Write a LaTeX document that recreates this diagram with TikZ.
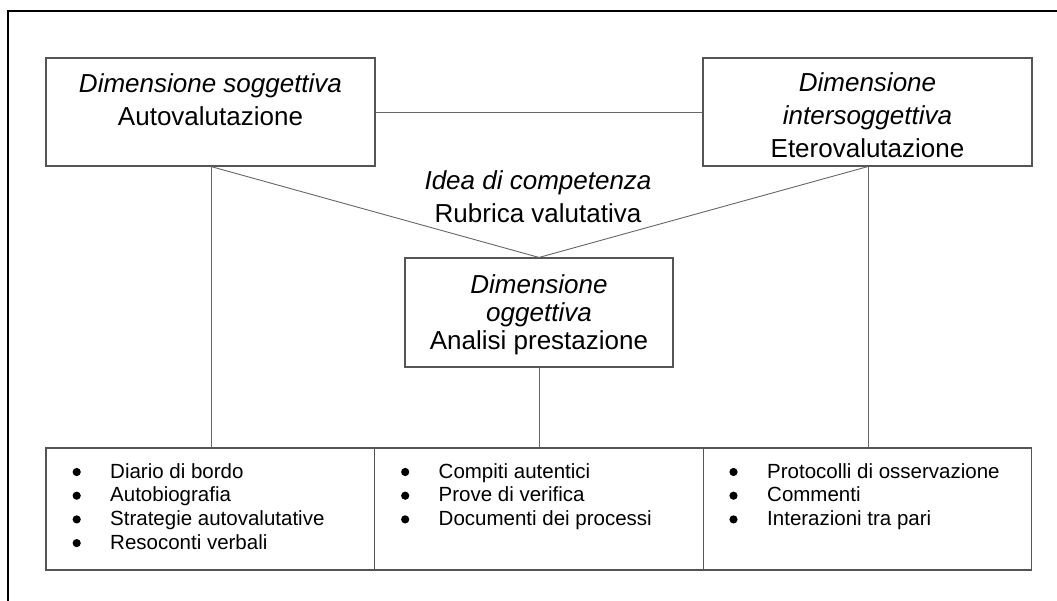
\documentclass[tikz,border=0pt]{standalone}
\usepackage{fontspec}
\setmainfont{Liberation Sans}
\definecolor{boxgray}{HTML}{555555}
\definecolor{linegray}{HTML}{666666}
\begin{document}
\begin{tikzpicture}[x=1pt,y=-1pt,
  box/.style={draw=boxgray, line width=1.1pt, minimum width=329pt, minimum height=108pt, inner sep=0pt},
  mbox/.style={draw=boxgray, line width=1.1pt, minimum width=268pt, minimum height=109pt, inner sep=0pt},
  lbox/.style={draw=boxgray, line width=1.1pt, minimum width=328.5pt, minimum height=122pt, inner sep=0pt},
  conn/.style={draw=linegray, line width=0.9pt},
  big/.style={font=\fontsize{26}{32.7}\selectfont, anchor=base, inner sep=0pt},
  lst/.style={font=\fontsize{20.5}{23.7}\selectfont, anchor=base west, inner sep=0pt},
  dot/.style={fill=black}]
\useasboundingbox (0,0) rectangle (1057,601);
% outer frame (top and left edges visible)
\coordinate (fb) at (8,601);
\coordinate (fc) at (8,11);
\coordinate (fr) at (1057,11);
\draw[black, line width=1.3pt] (fb) -- (fc) -- (fr);

% top boxes
\node[box] (sog) at (210.5,112) {};
\node[box] (inter) at (867.5,112) {};
\node[mbox] (ogg) at (539,312.5) {};
% bottom boxes
\node[lbox] (bl) at (210.25,509) {};
\node[lbox] (bm) at (539,509) {};
\node[lbox] (br) at (867.5,509) {};

% texts top-left
\node[big] (sog1) at (210.5,93) {\itshape Dimensione soggettiva};
\node[big] (sog2) at (210.5,126) {Autovalutazione};
% texts top-right
\node[big] (int1) at (867.5,92) {\itshape Dimensione};
\node[big] (int2) at (867.5,125) {\itshape intersoggettiva};
\node[big] (int3) at (867.5,157.5) {Eterovalutazione};
% center label
\node[big] (idea1) at (538,190) {\itshape Idea di competenza};
\node[big] (idea2) at (538,223) {Rubrica valutativa};
% middle box
\node[big] (ogg1) at (539,294) {\itshape Dimensione};
\node[big] (ogg2) at (539,321.5) {\itshape oggettiva};
\node[big] (ogg3) at (539,349) {Analisi prestazione};

% connectors
\coordinate (xl) at (211,0);
\coordinate (xr) at (868,0);
\draw[conn] (sog.east) -- (inter.west);
\draw[conn] (sog.south -| xl) -- (ogg.north);
\draw[conn] (inter.south -| xr) -- (ogg.north);
\draw[conn] (sog.south -| xl) -- (bl.north -| xl);
\draw[conn] (inter.south -| xr) -- (br.north -| xr);
\draw[conn] (ogg.south) -- (bm.north);

% lists
\node[lst] (l1) at (110,478) {Diario di bordo};
\node[lst] (l2) at (110,501.7) {Autobiografia};
\node[lst] (l3) at (110,525.4) {Strategie autovalutative};
\node[lst] (l4) at (110,549.1) {Resoconti verbali};
\node[lst] (m1) at (438.5,478) {Compiti autentici};
\node[lst] (m2) at (438.5,501.7) {Prove di verifica};
\node[lst] (m3) at (438.5,525.4) {Documenti dei processi};
\node[lst] (r1) at (767,478) {Protocolli di osservazione};
\node[lst] (r2) at (767,501.7) {Commenti};
\node[lst] (r3) at (767,525.4) {Interazioni tra pari};
% bullets
\foreach \y in {472,495.7,519.4,543.1} \fill[dot] (76.7,\y) circle (4.1pt);
\foreach \y in {472,495.7,519.4} \fill[dot] (405.2,\y) circle (4.1pt);
\foreach \y in {472,495.7,519.4} \fill[dot] (733.5,\y) circle (4.1pt);
\end{tikzpicture}
\end{document}
